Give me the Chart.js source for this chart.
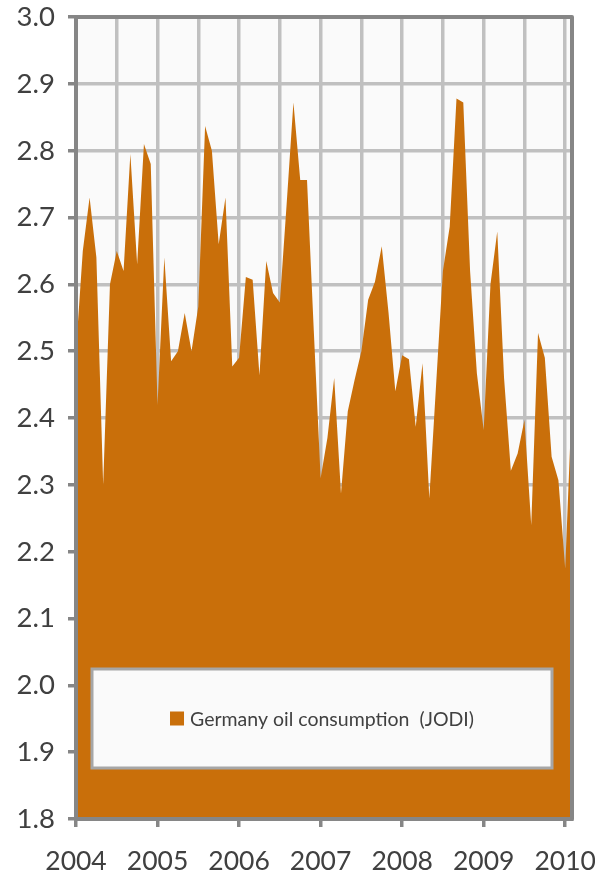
<!DOCTYPE html>
<html>
<head>
<meta charset="utf-8">
<script src="https://cdn.jsdelivr.net/npm/chart.js@4"></script>
<style>
  html, body { margin: 0; padding: 0; background: #fff; }
</style>
</head>
<body>
<canvas id="oil-chart" width="595" height="880"></canvas>
<script>
// data
const years = ['2004', '2005', '2006', '2007', '2008', '2009', '2010']
const monthNames = ['Jan', 'Feb', 'Mar', 'Apr', 'May', 'Jun', 'Jul', 'Aug', 'Sep', 'Oct', 'Nov', 'Dec']
const seriesLabel = 'Germany oil consumption  (JODI)'
// monthly, Jan 2004 .. Feb 2010 (million barrels per day)
const consumption = [
  2.50, 2.65, 2.73, 2.64, 2.30, 2.60, 2.65, 2.62, 2.795, 2.63, 2.81, 2.78,
  2.42, 2.64, 2.485, 2.50, 2.557, 2.50, 2.567, 2.837, 2.80, 2.66, 2.73, 2.477,
  2.49, 2.611, 2.607, 2.464, 2.635, 2.587, 2.573, 2.72, 2.872, 2.756, 2.756, 2.53,
  2.31, 2.37, 2.46, 2.287, 2.41, 2.457, 2.50, 2.577, 2.604, 2.657, 2.557, 2.44,
  2.494, 2.488, 2.387, 2.482, 2.28, 2.45, 2.62, 2.686, 2.878, 2.872, 2.62, 2.467,
  2.382, 2.60, 2.679, 2.46, 2.321, 2.347, 2.397, 2.24, 2.527, 2.49, 2.342, 2.307,
  2.175, 2.43,
]
const yTicks = [1.8, 1.9, 2.0, 2.1, 2.2, 2.3, 2.4, 2.5, 2.6, 2.7, 2.8, 2.9, 3.0]

const months = years.flatMap((y) => monthNames.map((m) => m + ' ' + y)).slice(0, consumption.length)

const fillColor = '#c96f0a'
const axisColor = '#868686'
const gridColor = '#c0c0c0'
const textColor = '#404040'
const fontFamily = "'Lato', 'Liberation Sans', sans-serif"

// plot background + frame + legend box inside the plot
const framePlugin = {
  id: 'frame',
  beforeDraw(chart) {
    const { ctx, chartArea: a } = chart
    ctx.save()
    ctx.fillStyle = '#ffffff'
    ctx.fillRect(0, 0, chart.width, chart.height)
    ctx.fillStyle = '#fafafa'
    ctx.fillRect(a.left, a.top, a.right - a.left, a.bottom - a.top)
    ctx.restore()
  },
  afterDatasetsDraw(chart) {
    const { ctx, chartArea: a } = chart
    ctx.save()
    ctx.strokeStyle = axisColor
    ctx.lineWidth = 4
    ctx.lineJoin = 'round'
    ctx.strokeRect(a.left, a.top, a.right - a.left, a.bottom - a.top)

    // legend
    const bx = a.left + 16
    const bw = a.right - a.left - 36
    const by = a.bottom - 150
    const bh = 99
    ctx.fillStyle = '#fafafa'
    ctx.fillRect(bx, by, bw, bh)
    ctx.strokeStyle = '#a6a6a6'
    ctx.lineWidth = 3
    ctx.lineJoin = 'miter'
    ctx.strokeRect(bx, by, bw, bh)

    ctx.font = '19.5px ' + fontFamily
    const tw = ctx.measureText(seriesLabel).width
    const total = 14 + 6 + tw
    const sx = bx + (bw - total) / 2
    const cy = by + bh / 2
    ctx.fillStyle = fillColor
    ctx.fillRect(sx, cy - 7, 14, 14)
    ctx.fillStyle = textColor
    ctx.textBaseline = 'middle'
    ctx.textAlign = 'left'
    ctx.fillText(seriesLabel, sx + 20, cy + 1)
    ctx.restore()
  },
}

const oilCtx = document.querySelector('#oil-chart')
const oilChart = new Chart(oilCtx, {
  type: 'line',
  data: {
    labels: months,
    datasets: [
      {
        label: seriesLabel,
        data: consumption,
        fill: 'start',
        backgroundColor: fillColor,
        borderWidth: 0,
        pointRadius: 0,
        tension: 0,
      },
    ],
  },
  options: {
    responsive: false,
    animation: false,
    layout: {
      padding: { top: 17, right: 23, left: 0, bottom: 0 },
    },
    plugins: {
      legend: { display: false },
      tooltip: { enabled: false },
    },
    scales: {
      x: {
        type: 'category',
        offset: false,
        border: { color: axisColor, width: 4 },
        grid: {
          color: (c) => (c.index % 6 === 0 ? gridColor : 'transparent'),
          lineWidth: 3.5,
          tickLength: 8,
          tickWidth: 3.5,
          tickColor: (c) => (c.index % 12 === 0 ? axisColor : 'transparent'),
        },
        ticks: {
          autoSkip: false,
          maxRotation: 0,
          padding: 19,
          color: textColor,
          font: { family: fontFamily, size: 26.5 },
          callback: (v, i) => (i % 12 === 0 ? years[i / 12] : ''),
        },
        afterFit: (scale) => {
          scale.height = 61
          scale.paddingLeft = 0
          scale.paddingRight = 0
        },
      },
      y: {
        min: 1.8,
        max: 3.0,
        border: { color: axisColor, width: 4 },
        grid: {
          color: gridColor,
          lineWidth: 3.5,
          tickLength: 8,
          tickWidth: 3.5,
          tickColor: axisColor,
        },
        ticks: {
          padding: 13,
          color: textColor,
          font: { family: fontFamily, size: 27.5 },
          callback: (v) => Number(v).toFixed(1),
        },
        afterBuildTicks: (scale) => {
          scale.ticks = yTicks.map((v) => ({ value: v }))
        },
        afterFit: (scale) => {
          scale.width = 76
          scale.paddingTop = 0
          scale.paddingBottom = 0
        },
      },
    },
  },
  plugins: [framePlugin],
})
</script>
</body>
</html>
